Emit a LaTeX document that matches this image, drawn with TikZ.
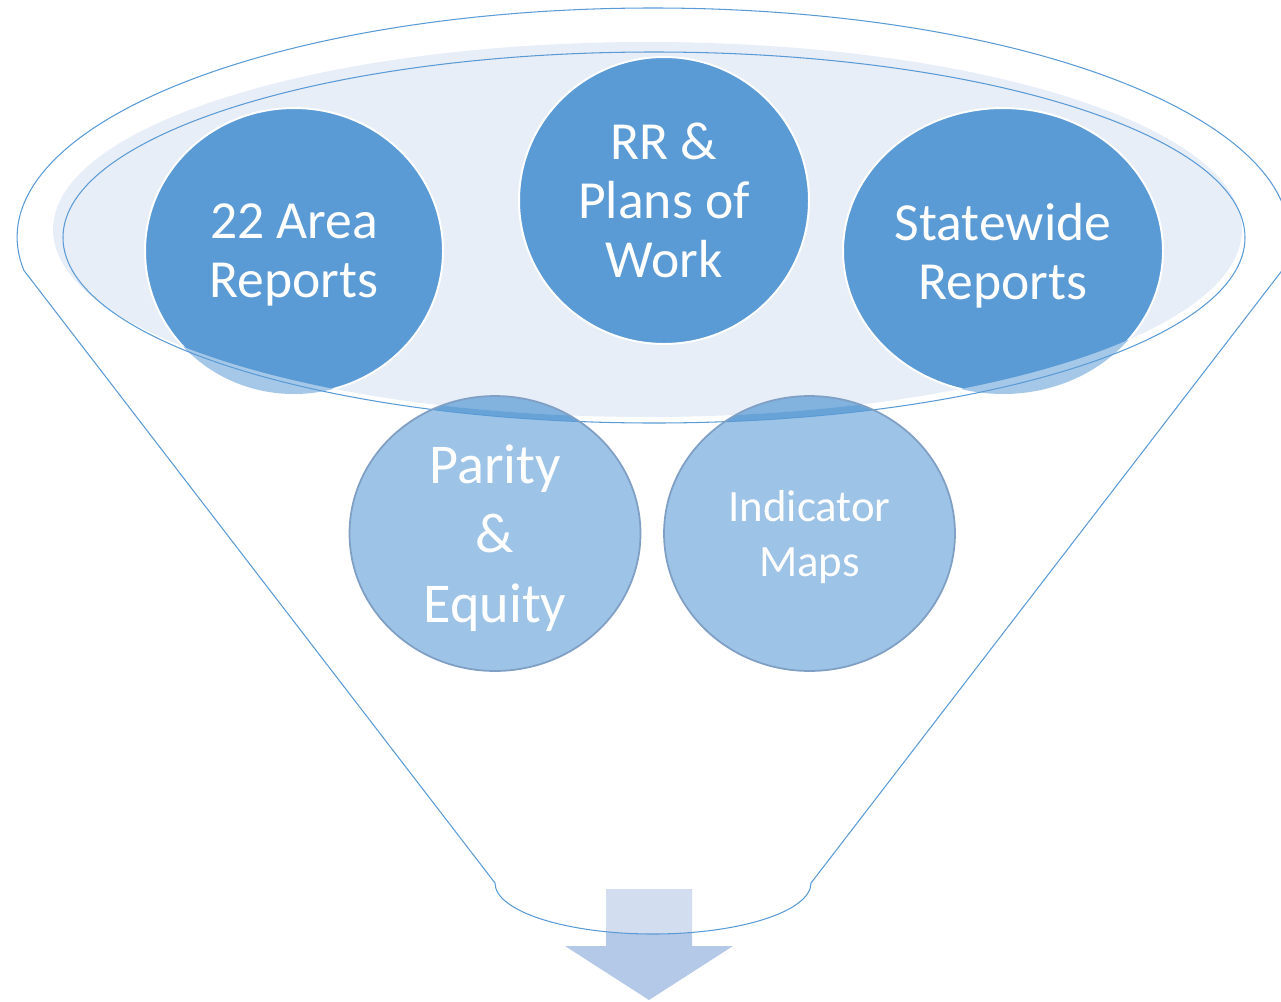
\documentclass[tikz,border=0pt]{standalone}
\usepackage{fontspec}
\setmainfont{Carlito}
\usetikzlibrary{shapes.geometric}
\definecolor{discblue}{HTML}{5B9BD5}
\definecolor{haze}{HTML}{E8EEF8}
\definecolor{ringgray}{HTML}{7F9FC4}
\definecolor{arrowdark}{HTML}{B4C8E7}
\definecolor{arrowlight}{HTML}{D2DEEF}

\begin{document}
\begin{tikzpicture}[x=0.02cm, y=-0.02cm,
    funnel/.style={draw=discblue, line width=0.6pt},
    topdisc/.style={ellipse, fill=discblue, draw=white, line width=1.1pt, text=white, align=center, inner sep=0pt, text depth=0pt, font=\fontsize{30.5}{33.5}\selectfont},
    lowdisc/.style={ellipse, draw=ringgray, line width=1pt, text=white, align=center, inner sep=0pt, text depth=0pt, minimum width=5.82cm, minimum height=5.5cm}]
    \useasboundingbox (0,0) rectangle (1281,1001);

    % arrow under the funnel
    \fill[arrowdark] (606,889) -- (692,889) -- (692,946) -- (733,946) -- (649,1000) -- (565,946) -- (606,946) -- cycle;
    \begin{scope}
      \clip (23.6,270) -- (495,883) arc[start angle=180, end angle=0, x radius=158, y radius=51]
            -- (1282.4,270) arc[start angle=8.29, end angle=-188.29, x radius=636, y radius=229] -- cycle;
      \fill[arrowlight] (606,889) -- (692,889) -- (692,946) -- (606,946) -- cycle;
    \end{scope}

    % funnel outline
    \draw[funnel] (23.6,270) -- (495,883) arc[start angle=180, end angle=0, x radius=158, y radius=51]
          -- (1282.4,270) arc[start angle=8.29, end angle=-188.29, x radius=636, y radius=229];

    % rim
    \fill[haze] (647.5,229.5) ellipse [x radius=594.5, y radius=187.5];
    \draw[funnel] (654,237.5) ellipse [x radius=591, y radius=185.5];

    % top discs, faint outside the rim
    \fill[discblue, opacity=.55] (294,251) ellipse [x radius=149, y radius=143]
          (664,200.5) ellipse [x radius=145, y radius=143.5]
          (1003,251) ellipse [x radius=160, y radius=143];
    \begin{scope}
      \clip (647.5,229.5) ellipse [x radius=594.5, y radius=187.5];
      \node[topdisc, minimum width=5.96cm, minimum height=5.72cm] (areas) at (294,251) {22 Area\\Reports};
      \node[topdisc, minimum width=5.8cm, minimum height=5.74cm] (plans) at (664,200.5) {RR \&\\Plans of\\Work};
      \node[topdisc, minimum width=6.4cm, minimum height=5.72cm] (statewide) at (1003,251) {Statewide\\Reports};
    \end{scope}

    % lower discs
    \fill[discblue, opacity=.6] (495,533.5) ellipse [x radius=145.5, y radius=137.5]
          (809.5,533.5) ellipse [x radius=145.5, y radius=137.5];
    \begin{scope}
      \clip (647.5,229.5) ellipse [x radius=594.5, y radius=187.5];
      \fill[discblue, opacity=.3] (495,533.5) ellipse [x radius=145.5, y radius=137.5]
            (809.5,533.5) ellipse [x radius=145.5, y radius=137.5];
    \end{scope}
    \begin{scope}
      \clip (495,533.5) ellipse [x radius=145.5, y radius=137.5]
            (809.5,533.5) ellipse [x radius=145.5, y radius=137.5];
      \fill[discblue, opacity=.8, even odd rule] (654,237.5) ellipse [x radius=591, y radius=185.5]
            (647.5,229.5) ellipse [x radius=594.5, y radius=187.5];
    \end{scope}
    \node[lowdisc, font=\fontsize{32}{39.5}\selectfont] (parity) at (495,533.5) {Parity\\\&\\Equity};
    \node[lowdisc, font=\fontsize{25.5}{31}\selectfont] (maps) at (809.5,533.5) {Indicator\\Maps};
\end{tikzpicture}
\end{document}
